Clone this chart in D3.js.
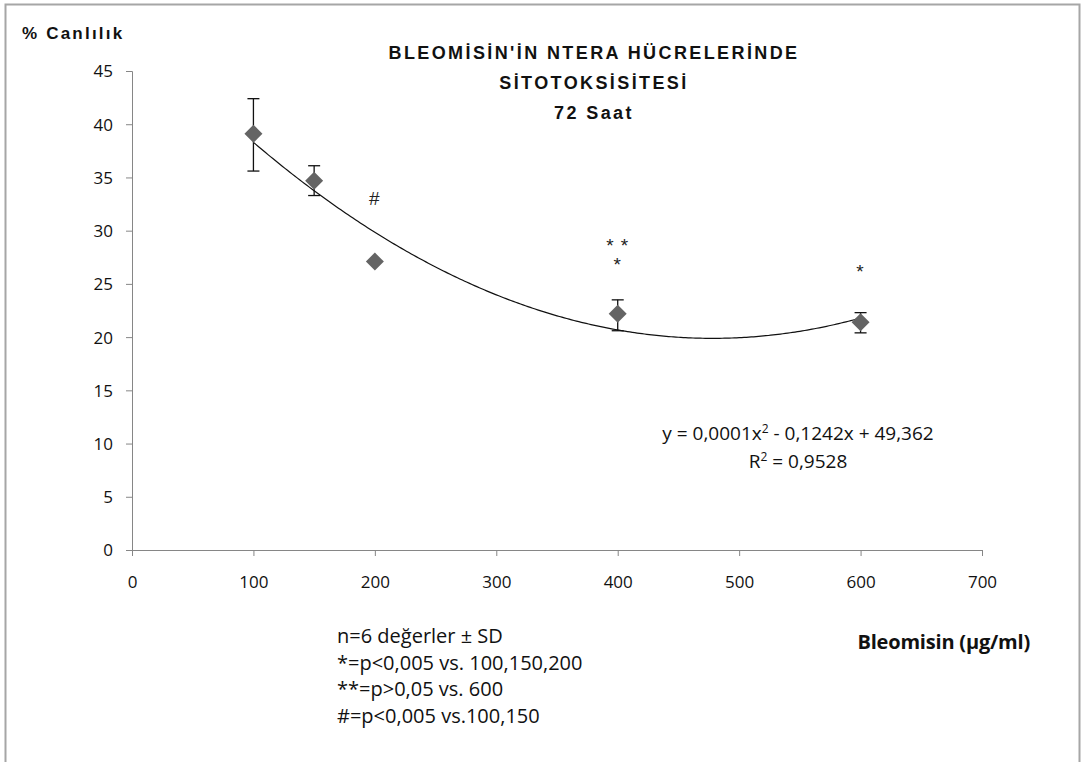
<!DOCTYPE html>
<html>
<head>
<meta charset="utf-8">
<script src="https://cdn.jsdelivr.net/npm/d3@7"></script>
<style>
  body { margin: 0; background: #fff; }
  svg { display: block; }
</style>
</head>
<body>
<div id="wrapper"></div>
<script>
// data
const doses = [100, 150, 200, 400, 600]
const viability = [39.1, 34.7, 27.1, 22.2, 21.4]
const sdUp = [3.3, 1.4, 0, 1.3, 0.9]
const sdDown = [3.5, 1.4, 0, 1.6, 1.0]
const marks = [
  {x: 200, y: 33.0, t: "#"},
  {x: 400, y: 28.6, t: "* *"},
  {x: 400, y: 26.8, t: "*"},
  {x: 600, y: 26.2, t: "*"},
]
// trendline coefficients (Excel poly 2, label shows them rounded)
const trendCoef = [0.0001287, -0.1231, 49.32]
const xTicks = [0, 100, 200, 300, 400, 500, 600, 700]
const yTicks = [0, 5, 10, 15, 20, 25, 30, 35, 40, 45]
const titleLines = ["BLEOMİSİN'İN NTERA HÜCRELERİNDE", "SİTOTOKSİSİTESİ", "72 Saat"]
const notes = ["n=6  değerler ± SD", "*=p<0,005 vs. 100,150,200", "**=p>0,05 vs. 600", "#=p<0,005 vs.100,150"]

const width = 1082
const height = 762
const margin = {top: 71, right: 100, bottom: 212, left: 132}

const svg = d3.select("#wrapper").append("svg")
  .attr("width", width)
  .attr("height", height)

// outer frame
svg.append("path")
  .attr("d", `M5.5,${height} V4.5 H1079.5 V${height}`)
  .attr("fill", "none")
  .attr("stroke", "#a6a6a6")
  .attr("stroke-width", 2)

const xScale = d3.scaleLinear().domain([0, 700]).range([margin.left, width - margin.right])
const yScale = d3.scaleLinear().domain([0, 45]).range([height - margin.bottom, margin.top])

const tickFont = "'Open Sans', 'Noto Sans', sans-serif"
const boldFont = "'Liberation Sans', Arial, sans-serif"

// axes
const yAxis = svg.append("g")
  .attr("transform", `translate(${margin.left},0)`)
  .call(d3.axisLeft(yScale).tickValues(yTicks).tickSize(6).tickPadding(13))
const xAxis = svg.append("g")
  .attr("transform", `translate(0,${yScale(0)})`)
  .call(d3.axisBottom(xScale).tickValues(xTicks).tickSize(6).tickPadding(20))

;[yAxis, xAxis].forEach(g => {
  g.select(".domain").attr("stroke", "#868686")
  g.selectAll(".tick line").attr("stroke", "#868686")
  g.selectAll(".tick text")
    .attr("fill", "#111")
    .style("font-family", tickFont)
    .style("font-size", "17px")
})
yAxis.selectAll(".tick text").attr("dy", "0.35em")

// trendline
const trendX = d3.range(doses[0], doses[doses.length - 1] + 1, 2)
const trend = x => trendCoef[0] * x * x + trendCoef[1] * x + trendCoef[2]
svg.append("path")
  .datum(trendX)
  .attr("fill", "none")
  .attr("stroke", "#111")
  .attr("stroke-width", 1.2)
  .attr("d", d3.line().x(d => xScale(d)).y(d => yScale(trend(d))))

// error bars
const points = doses.map((d, i) => ({x: d, y: viability[i], up: sdUp[i], down: sdDown[i]}))
const eb = svg.append("g").attr("stroke", "#111").attr("stroke-width", 1.3)
points.filter(p => p.up > 0).forEach(p => {
  const cx = xScale(p.x)
  const y1 = yScale(p.y + p.up)
  const y2 = yScale(p.y - p.down)
  eb.append("line").attr("x1", cx).attr("x2", cx).attr("y1", y1).attr("y2", y2)
  eb.append("line").attr("x1", cx - 6).attr("x2", cx + 6).attr("y1", y1).attr("y2", y1)
  eb.append("line").attr("x1", cx - 6).attr("x2", cx + 6).attr("y1", y2).attr("y2", y2)
})

// diamonds
svg.append("g").selectAll("path")
  .data(points)
  .join("path")
  .attr("transform", d => `translate(${xScale(d.x)},${yScale(d.y)})`)
  .attr("d", "M0,-9 L9,0 L0,9 L-9,0 Z")
  .attr("fill", "#646464")

// significance marks
svg.append("g").selectAll("text")
  .data(marks)
  .join("text")
  .attr("x", d => xScale(d.x))
  .attr("y", d => yScale(d.y))
  .attr("text-anchor", "middle")
  .attr("dy", "0.35em")
  .style("font-family", boldFont)
  .style("font-size", "19px")
  .style("letter-spacing", "1px")
  .attr("fill", "#222")
  .text(d => d.t)

// title
svg.append("g").selectAll("text")
  .data(titleLines)
  .join("text")
  .attr("x", 594)
  .attr("y", (d, i) => 59 + i * 30)
  .attr("text-anchor", "middle")
  .style("font-family", boldFont)
  .style("font-weight", "bold")
  .style("font-size", "18px")
  .style("letter-spacing", "2.4px")
  .attr("fill", "#111")
  .text(d => d)

// y axis title
svg.append("text")
  .attr("x", 22)
  .attr("y", 39)
  .style("font-family", boldFont)
  .style("font-weight", "bold")
  .style("font-size", "17px")
  .style("letter-spacing", "2.2px")
  .attr("fill", "#111")
  .text("%  Canlılık")

// x axis title
svg.append("text")
  .attr("x", 1030)
  .attr("y", 649)
  .attr("text-anchor", "end")
  .style("font-family", tickFont)
  .style("font-weight", "bold")
  .style("font-size", "20px")
  .style("letter-spacing", "-0.2px")
  .attr("fill", "#111")
  .text("Bleomisin (µg/ml)")

// equation
const eq = svg.append("text")
  .attr("x", 798)
  .attr("y", 440)
  .attr("text-anchor", "middle")
  .style("font-family", tickFont)
  .style("font-size", "19px")
  .attr("fill", "#111")
eq.append("tspan").text("y = 0,0001x")
eq.append("tspan").attr("dy", -7).style("font-size", "12px").text("2")
eq.append("tspan").attr("dy", 7).text(" - 0,1242x + 49,362")
const r2 = svg.append("text")
  .attr("x", 798)
  .attr("y", 468)
  .attr("text-anchor", "middle")
  .style("font-family", tickFont)
  .style("font-size", "19px")
  .attr("fill", "#111")
r2.append("tspan").text("R")
r2.append("tspan").attr("dy", -7).style("font-size", "12px").text("2")
r2.append("tspan").attr("dy", 7).text(" = 0,9528")

// notes
svg.append("g").selectAll("text")
  .data(notes)
  .join("text")
  .attr("x", 337)
  .attr("y", (d, i) => 643 + i * 26.5)
  .style("font-family", tickFont)
  .style("font-size", "20px")
  .attr("fill", "#111")
  .text(d => d)
</script>
</body>
</html>
